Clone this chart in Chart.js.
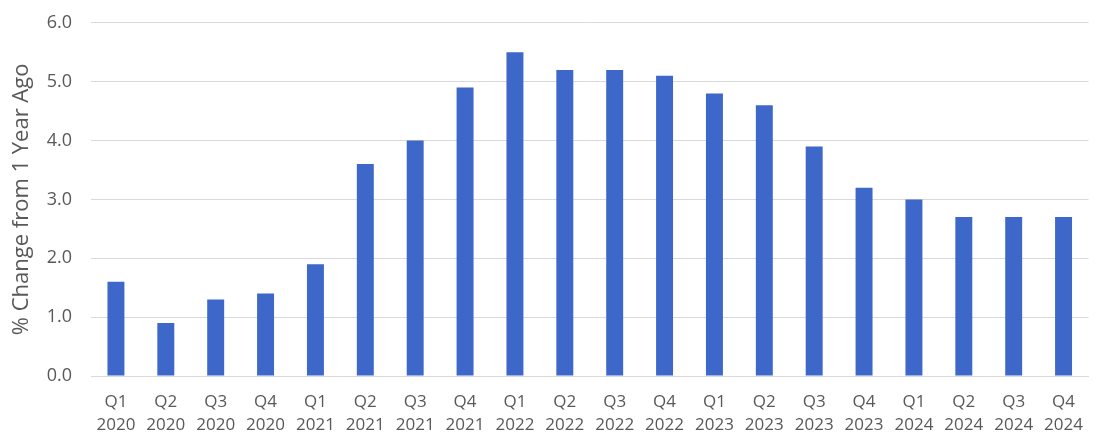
<!DOCTYPE html>
<html>
<head>
<meta charset="utf-8">
<script src="https://cdn.jsdelivr.net/npm/chart.js@4/dist/chart.umd.min.js"></script>
<style>
html,body{margin:0;padding:0;background:#fff;overflow:hidden;}
#wrap{width:1098px;height:434px;position:relative;overflow:hidden;}
#c{position:absolute;left:0;top:-7px;}
</style>
</head>
<body>
<div id="wrap"><canvas id="c" width="1098" height="441"></canvas></div>
<script>
const quarters = ["Q1","Q2","Q3","Q4","Q1","Q2","Q3","Q4","Q1","Q2","Q3","Q4","Q1","Q2","Q3","Q4","Q1","Q2","Q3","Q4"];
const years = ["2020","2020","2020","2020","2021","2021","2021","2021","2022","2022","2022","2022","2023","2023","2023","2023","2024","2024","2024","2024"];
const changeValues = [1.6,0.9,1.3,1.4,1.9,3.6,4.0,4.9,5.5,5.2,5.2,5.1,4.8,4.6,3.9,3.2,3.0,2.7,2.7,2.7];
const yTitle = "% Change from 1 Year Ago";

const labels = quarters.map((q,i)=>[q, years[i]]);
const textColor = "#595959";
const font = "'Open Sans', 'Liberation Sans', sans-serif";

new Chart(document.getElementById('c'), {
  type: 'bar',
  data: {
    labels: labels,
    datasets: [{
      data: changeValues,
      backgroundColor: '#3d67c9',
      borderWidth: 0,
      categoryPercentage: 1.0,
      barPercentage: 0.34
    }]
  },
  options: {
    responsive: false,
    animation: false,
    devicePixelRatio: 1,
    layout: { padding: { top: 6, right: 0, bottom: 0, left: 0 } },
    plugins: { legend: { display: false }, tooltip: { enabled: false } },
    scales: {
      x: {
        grid: { display: false, drawTicks: false },
        border: { display: true, color: '#d9d9d9', width: 1 },
        ticks: { color: textColor, font: { family: font, size: 17, lineHeight: 1.35 }, padding: 15, maxRotation: 0, autoSkip: false },
        afterFit: (s) => { s.height = 58; }
      },
      y: {
        min: 0, max: 6,
        grid: { color: '#d9d9d9', drawTicks: false, lineWidth: 1 },
        border: { display: false },
        ticks: { stepSize: 1, color: textColor, font: { family: font, size: 18 }, padding: 19,
          callback: (v) => Number(v).toFixed(1) },
        title: { display: true, text: yTitle, color: textColor, font: { family: font, size: 22 }, padding: { top: 9, bottom: 0 } },
        afterFit: (s) => { s.width = 91; }
      }
    }
  }
});
</script>
</body>
</html>
